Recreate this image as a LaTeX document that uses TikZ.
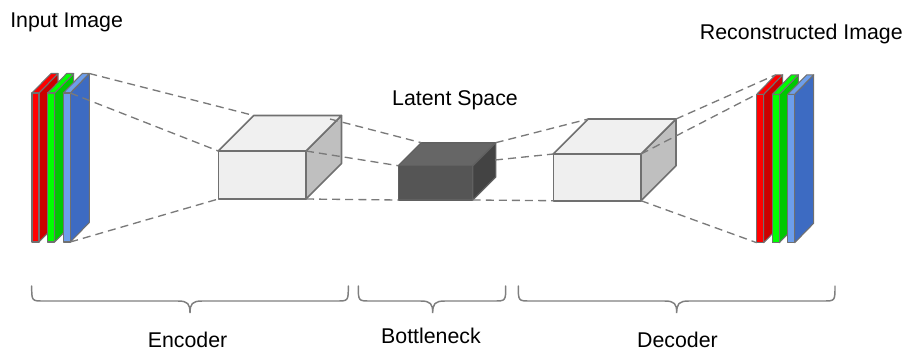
\documentclass[tikz,border=0pt]{standalone}
\usepackage{fontspec}
\setmainfont{Liberation Sans}
\definecolor{edgegray}{HTML}{707070}
\definecolor{dashgray}{HTML}{7A7A7A}
\definecolor{bracegray}{HTML}{7F7F7F}
\definecolor{redF}{HTML}{FF0000}
\definecolor{redS}{HTML}{CC0000}
\definecolor{greenF}{HTML}{00FF00}
\definecolor{greenS}{HTML}{00C800}
\definecolor{blueF}{HTML}{6D9EEB}
\definecolor{blueS}{HTML}{3D6BC2}
\definecolor{lightF}{HTML}{EFEFEF}
\definecolor{lightT}{HTML}{F0F0F0}
\definecolor{lightS}{HTML}{BFBFBF}
\definecolor{darkF}{HTML}{555555}
\definecolor{darkT}{HTML}{666666}
\definecolor{darkS}{HTML}{434343}
\definecolor{darkE}{HTML}{606060}
\newcommand\mylayer[7]{% name, x, top, bottom, front, side, topc
  \coordinate (#1-ftl) at (#2,#3);
  \coordinate (#1-ftr) at (#2+7,#3);
  \coordinate (#1-fbl) at (#2,#4);
  \coordinate (#1-fbr) at (#2+7,#4);
  \coordinate (#1-btl) at (#2+19,#3-19.5);
  \coordinate (#1-btr) at (#2+26,#3-19.5);
  \coordinate (#1-bbr) at (#2+26,#4-19.5);
  \path[edge,fill=#6] (#1-ftr) -- (#1-btr) -- (#1-bbr) -- (#1-fbr) -- cycle;
  \path[edge,fill=#7] (#1-ftl) -- (#1-btl) -- (#1-btr) -- (#1-ftr) -- cycle;
  \path[edge,fill=#5] (#1-ftl) -- (#1-ftr) -- (#1-fbr) -- (#1-fbl) -- cycle;
}
\newcommand\mycube[9]{% name, x1, x2, ytop, ybot, d, front, top, side
  \coordinate (#1-ftl) at (#2,#4);
  \coordinate (#1-ftr) at (#3,#4);
  \coordinate (#1-fbl) at (#2,#5);
  \coordinate (#1-fbr) at (#3,#5);
  \coordinate (#1-btl) at (#2+#6,#4-#6);
  \coordinate (#1-btr) at (#3+#6,#4-#6);
  \coordinate (#1-bbr) at (#3+#6,#5-#6);
  \path[cubeedge,fill=#9] (#1-ftr) -- (#1-btr) -- (#1-bbr) -- (#1-fbr) -- cycle;
  \path[cubeedge,fill=#8] (#1-ftl) -- (#1-btl) -- (#1-btr) -- (#1-ftr) -- cycle;
  \path[cubeedge,fill=#7] (#1-ftl) -- (#1-ftr) -- (#1-fbr) -- (#1-fbl) -- cycle;
}
\newcommand\mybrace[3]{% x0, xm, x1
  \draw[bracestyle] (#1,286) .. controls (#1,301) .. (#1+12,301)
    -- (#2-12,301) .. controls (#2-2,301) and (#2,304) .. (#2,313)
    .. controls (#2,304) and (#2+2,301) .. (#2+12,301)
    -- (#3-12,301) .. controls (#3,301) .. (#3,286);
}
\begin{document}
\begin{tikzpicture}[x=0.75pt,y=-0.75pt,
  edge/.style={draw=edgegray,line width=0.8pt,line join=round},
  cubeedge/.style={draw=edgegray,line width=1.2pt,line join=round},
  dashline/.style={draw=dashgray,line width=1pt,dash pattern=on 6pt off 3.8pt},
  bracestyle/.style={draw=bracegray,line width=1.1pt,line cap=round},
  lbl/.style={font=\fontsize{16}{19}\selectfont,inner sep=0pt,text=black}]
\path[use as bounding box] (0,0) rectangle (905,350);
% input layers
\mylayer{L1}{32}{93}{242}{redF}{redS}{redF}
\mylayer{L2}{47.7}{93}{242}{greenF}{greenS}{greenF}
\mylayer{L3}{63.3}{93}{242}{blueF}{blueS}{blueF}
% output layers
\mylayer{R1}{756.7}{94.3}{242.7}{redF}{redS}{redF}
\mylayer{R2}{772.3}{94.3}{242.7}{greenF}{greenS}{greenF}
\mylayer{R3}{787.7}{94.3}{242.7}{blueF}{blueS}{blueF}
% cubes
\mycube{enc}{218.3}{306}{151}{199}{35.5}{lightF}{lightT}{lightS}
\begin{scope}[cubeedge/.style={draw=darkE,line width=1pt,line join=round}]
\mycube{bot}{398.3}{472.7}{165.7}{200}{23}{darkF}{darkT}{darkS}
\end{scope}
\mycube{dec}{553.3}{641}{154}{200.7}{35}{lightF}{lightT}{lightS}
\coordinate (enc-tp) at (330,119);
\coordinate (bot-sp) at (495,160);
% dashed connectors
\draw[dashline] (L3-btr) -- (enc-btl);
\draw[dashline] (L3-ftr) -- (enc-ftl);
\draw[dashline] (L3-fbr) -- (enc-fbl);
\draw[dashline] (enc-tp) -- (bot-btl);
\draw[dashline] (enc-ftr) -- (bot-ftl);
\draw[dashline] (enc-fbr) -- (bot-fbl);
\draw[dashline] (bot-btr) -- (dec-btl);
\draw[dashline] (bot-sp) -- (dec-ftl);
\draw[dashline] (bot-fbr) -- (dec-fbl);
\draw[dashline] (dec-btr) -- (R1-btl);
\draw[dashline] (dec-ftr) -- (R1-ftl);
\draw[dashline] (dec-fbr) -- (R1-fbl);
% braces
\mybrace{31.7}{190}{348.3}
\mybrace{358.3}{432.7}{505.7}
\mybrace{518.3}{676.7}{835}
% labels
\node[lbl,anchor=base west] (tin) at (10,27.5) {Input Image};
\node[lbl,anchor=base east] (tout) at (903,39.5) {Reconstructed Image};
\node[lbl,anchor=base] (tlat) at (455,105) {Latent Space};
\node[lbl,anchor=base] (tenc) at (187.5,347.5) {Encoder};
\node[lbl,anchor=base] (tbot) at (431,343.3) {Bottleneck};
\node[lbl,anchor=base] (tdec) at (677.5,347.5) {Decoder};
\end{tikzpicture}
\end{document}
